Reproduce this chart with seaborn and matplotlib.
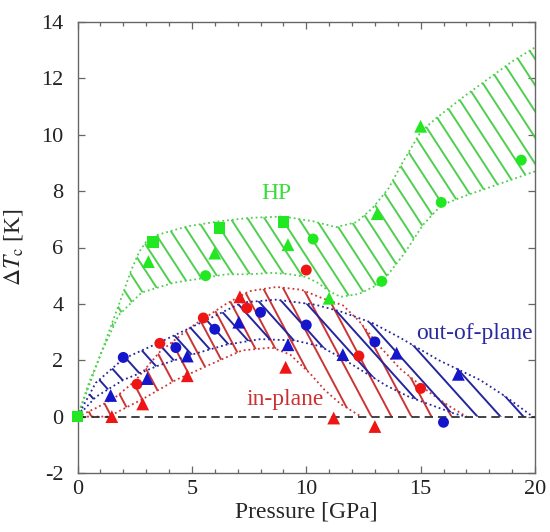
import numpy as np
import pandas as pd
import matplotlib
matplotlib.use("Agg")
import matplotlib.pyplot as plt
import seaborn as sns
from matplotlib.patches import Polygon
from matplotlib.ticker import MultipleLocator

# ---- measured Tc shifts (pressure in GPa, dTc in K) ----
hp_sq_p = [0.0, 3.3, 6.2, 9.0]
hp_sq_t = [0.0, 6.2, 6.7, 6.9]
hp_tri_p = [3.1, 6.0, 9.2, 11.0, 13.1, 15.0]
hp_tri_t = [5.5, 5.8, 6.1, 4.2, 7.2, 10.3]
hp_ci_p = [5.6, 10.3, 13.3, 15.9, 19.4]
hp_ci_t = [5.0, 6.3, 4.8, 7.6, 9.1]

in_ci_p = [2.6, 3.6, 5.5, 7.4, 10.0, 12.3, 15.0]
in_ci_t = [1.15, 2.6, 3.5, 3.85, 5.2, 2.15, 1.0]
in_tri_p = [1.5, 2.85, 4.8, 7.1, 9.1, 11.2, 13.0]
in_tri_t = [0.0, 0.45, 1.45, 4.25, 1.75, -0.05, -0.35]

out_ci_p = [2.0, 4.3, 6.0, 8.0, 10.0, 13.0, 16.0]
out_ci_t = [2.1, 2.45, 3.1, 3.7, 3.25, 2.65, -0.2]
out_tri_p = [1.45, 3.05, 4.8, 7.05, 9.2, 11.6, 13.95, 16.65]
out_tri_t = [0.75, 1.35, 2.15, 3.35, 2.55, 2.2, 2.25, 1.5]

# ---- band envelopes ----
hp_up_p = [0, 0.6, 1.3, 2.0, 2.35, 2.7, 3.0, 3.5, 4.8, 6.2, 7.5, 9.0, 10.3,
           11.3, 12.2, 12.9, 13.6, 14.2, 15.0, 15.7, 16.8, 17.9, 19.0, 20.0]
hp_up_t = [0, 1.3, 2.85, 4.4, 5.2, 5.85, 6.2, 6.45, 6.75, 6.93, 7.05, 7.1, 6.93,
           6.72, 6.9, 7.4, 8.1, 9.0, 10.1, 10.6, 11.3, 11.95, 12.6, 13.1]
hp_lo_p = [0, 0.5, 1.06, 1.8, 2.8, 4.2, 5.4, 6.5, 7.5, 8.5, 9.3, 10.0, 10.5,
           11.0, 11.5, 12.3, 13.3, 14.3, 15.1, 15.9, 17.0, 18.6, 20.0]
hp_lo_t = [0, 1.2, 2.3, 3.6, 4.4, 4.75, 4.9, 5.05, 5.05, 5.1, 5.05, 4.95, 4.75,
           4.45, 4.25, 4.35, 4.75, 5.8, 6.8, 7.5, 7.85, 8.3, 8.7]

in_up_p = [0, 0.8, 1.6, 2.5, 3.6, 5.0, 6.5, 7.5, 8.7, 9.8, 10.7, 11.6, 12.3,
           13.2, 14.1, 15.4, 16.2, 17.0]
in_up_t = [0, 0.3, 0.65, 1.25, 2.3, 3.2, 4.0, 4.45, 4.6, 4.5, 4.2, 3.95, 3.4,
           2.5, 1.7, 0.85, 0.4, 0.0]
in_lo_p = [0, 1.35, 2.8, 4.3, 5.8, 7.2, 8.5, 9.3, 10.2, 10.8, 11.5, 12.4]
in_lo_t = [0, 0.0, 0.6, 1.3, 1.85, 2.35, 2.45, 2.2, 1.5, 0.95, 0.45, 0.0]

out_up_p = [0, 0.8, 2.0, 3.5, 5.7, 7.2, 8.7, 10.4, 11.5, 12.9, 14.1, 15.8,
            17.6, 18.7, 19.9]
out_up_t = [0, 1.2, 2.05, 2.6, 3.45, 4.05, 4.15, 3.97, 3.73, 3.32, 2.8, 2.0,
            1.3, 0.72, 0.0]
out_lo_p = [0, 0.8, 2.0, 3.5, 5.0, 6.5, 8.0, 9.5, 10.6, 11.5, 12.5, 13.5,
            14.5, 15.5, 16.5, 17.0]
out_lo_t = [0, 0.7, 1.3, 1.8, 2.2, 2.55, 2.75, 2.7, 2.5, 2.1, 1.6, 1.1,
            0.7, 0.4, 0.1, 0.0]

GREEN, GREEN_L = "#22e822", "#4fcf4f"
RED, RED_L = "#ee1515", "#cc3535"
BLUE, BLUE_L = "#1515cc", "#25259e"

sns.set_theme(style="ticks")
plt.rcParams["font.family"] = ["Liberation Serif", "DejaVu Serif"]
plt.rcParams["mathtext.fontset"] = "stix"
plt.rcParams["axes.unicode_minus"] = False

W, H = 550, 532
fig = plt.figure(figsize=(W / 100, H / 100), dpi=100)
L, R, T, B = 77.5, 535, 22, 473
ax = fig.add_axes([L / W, 1 - B / H, (R - L) / W, (B - T) / H])
XMIN, XMAX, YMIN, YMAX = 0, 20, -2, 14
ax.set_autoscale_on(False)
ax.set_xlim(XMIN, XMAX)
ax.set_ylim(YMIN, YMAX)
px_x = (R - L) / (XMAX - XMIN)
px_y = (B - T) / (YMAX - YMIN)


def band(up_p, up_t, lo_p, lo_t, line_c, angle, spacing, anchor, z):
    verts = list(zip(up_p, up_t)) + list(zip(lo_p[::-1], lo_t[::-1]))
    clip = Polygon(verts, closed=True, transform=ax.transData,
                   facecolor="none", edgecolor="none")
    ax.add_patch(clip)
    slope = -np.tan(np.radians(angle)) * px_x / px_y
    step = spacing / px_x
    a_p, a_t = anchor
    ys = np.array([YMIN - 2, YMAX + 2])
    for k in range(-60, 61):
        xc = a_p + k * step
        xs = xc + (ys - a_t) / slope
        ln, = ax.plot(xs, ys, color=line_c, lw=1.4, zorder=z,
                      solid_capstyle="butt")
        ln.set_clip_path(clip)
    ax.plot(up_p, up_t, ls=":", color=line_c, lw=1.3, zorder=z)
    ax.plot(lo_p, lo_t, ls=":", color=line_c, lw=1.3, zorder=z)


band(hp_up_p, hp_up_t, hp_lo_p, hp_lo_t, GREEN_L, 57, 17, (15.9, 7.6), 2)
band(in_up_p, in_up_t, in_lo_p, in_lo_t, RED_L, 62, 20, (14.6, 0.0), 3)
band(out_up_p, out_up_t, out_lo_p, out_lo_t, BLUE_L, 48, 23, (16.48, 0.0), 4)

ax.axhline(0, color="#222222", lw=1.2, ls=(0, (5, 3)), zorder=4.5)

# ---- markers ----
frames = []
for p, t, grp, shp in [
    (hp_sq_p, hp_sq_t, "HP", "sq"), (hp_tri_p, hp_tri_t, "HP", "tri"),
    (hp_ci_p, hp_ci_t, "HP", "ci"),
    (in_ci_p, in_ci_t, "in", "ci"), (in_tri_p, in_tri_t, "in", "tri"),
    (out_ci_p, out_ci_t, "out", "ci"), (out_tri_p, out_tri_t, "out", "tri"),
]:
    frames.append(pd.DataFrame({"P": p, "dT": t, "grp": grp, "shape": shp}))
pts = pd.concat(frames, ignore_index=True)

sns.scatterplot(data=pts, x="P", y="dT", hue="grp", style="shape",
                size="shape",
                palette={"HP": GREEN, "in": RED, "out": BLUE},
                markers={"sq": "s", "ci": "o", "tri": "^"},
                sizes={"sq": 70, "ci": 62, "tri": 85},
                linewidth=0, legend=False, zorder=6, clip_on=False, ax=ax)

# ---- labels ----
ax.text(8.7, 7.9, "HP", color="#3cdc3c", fontsize=17, ha="center", va="center")
ax.text(19.9, 2.95, "out-of-plane", color="#2a2aa0", fontsize=17,
        ha="right", va="center")
ax.text(9.1, 0.6, "in-plane", color="#cc3030", fontsize=17,
        ha="center", va="center")

ax.set_xlabel("Pressure [GPa]", fontsize=17, labelpad=2)
ax.set_ylabel(r"$\Delta T_{\rm c}$ [K]", fontsize=17, labelpad=12)

ax.xaxis.set_major_locator(MultipleLocator(5))
ax.xaxis.set_minor_locator(MultipleLocator(1))
ax.yaxis.set_major_locator(MultipleLocator(2))
ax.tick_params(which="both", direction="in", top=True, right=True,
               color="#666666", width=0.9, labelsize=16, labelcolor="#222222")
ax.tick_params(which="major", length=5)
ax.tick_params(axis="x", which="major", pad=5)
ax.tick_params(axis="y", which="major", pad=10)
ax.tick_params(which="minor", length=3)
for s in ax.spines.values():
    s.set_color("#666666")
    s.set_linewidth(1.0)

fig.savefig("out.png", dpi=100)
